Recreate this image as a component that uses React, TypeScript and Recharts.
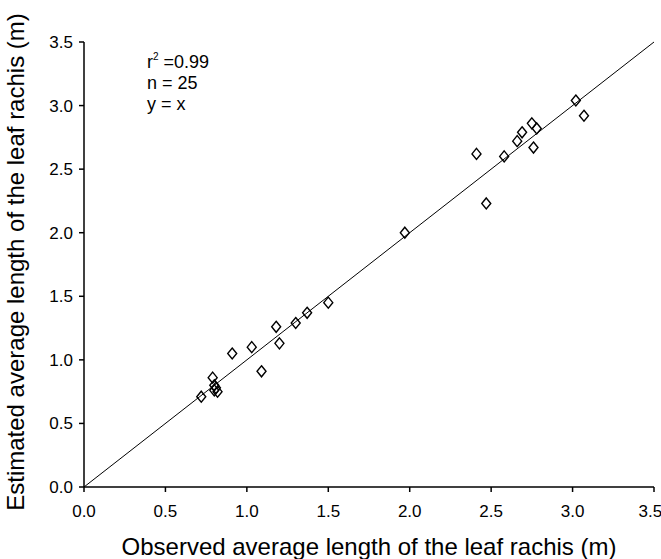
import React from 'react';
import {
  ScatterChart,
  Scatter,
  XAxis,
  YAxis,
  ReferenceLine,
  Customized,
} from 'recharts';

// observed (x) vs estimated (y) average rachis length, m
const observed = [
  0.72, 0.79, 0.8, 0.81, 0.8, 0.82, 0.91, 1.03, 1.09, 1.18, 1.2, 1.3, 1.37, 1.5,
  1.97, 2.41, 2.47, 2.58, 2.66, 2.69, 2.75, 2.78, 2.76, 3.02, 3.07,
];
const estimated = [
  0.71, 0.86, 0.8, 0.78, 0.76, 0.75, 1.05, 1.1, 0.91, 1.26, 1.13, 1.29, 1.37, 1.45,
  2.0, 2.62, 2.23, 2.6, 2.72, 2.79, 2.86, 2.82, 2.67, 3.04, 2.92,
];
const ticks = [0, 0.5, 1, 1.5, 2, 2.5, 3, 3.5];
const notes = ['n = 25', 'y = x'];

const points = observed.map((x, i) => ({ x, y: estimated[i] }));

const FONT = "Arial, 'Liberation Sans', sans-serif";

const Diamond = (props: any) => {
  const { cx, cy } = props;
  return (
    <path
      d={`M${cx},${cy - 5.5} L${cx + 4.5},${cy} L${cx},${cy + 5.5} L${cx - 4.5},${cy} Z`}
      fill="none"
      stroke="#000"
      strokeWidth={1.4}
    />
  );
};

const Notes = () => (
  <g fontFamily={FONT} fontSize={18} fill="#000">
    <text x={147} y={68}>
      r<tspan fontSize={10} dy={-8}>2</tspan>
      <tspan dy={8}> =0.99</tspan>
    </text>
    {notes.map((t, i) => (
      <text key={t} x={147} y={89 + i * 21}>
        {t}
      </text>
    ))}
    <text
      x={24}
      y={262}
      fontSize={24}
      textAnchor="middle"
      transform="rotate(-90 24 262)"
    >
      Estimated average length of the leaf rachis (m)
    </text>
    <text x={369} y={555} fontSize={24} textAnchor="middle">
      Observed average length of the leaf rachis (m)
    </text>
  </g>
);

const tickStyle = { fill: '#000', fontSize: 17, fontFamily: FONT };

export default function App() {
  return (
    <div style={{ position: 'absolute', left: 0, top: 0, background: '#fff' }}>
      <ScatterChart
        width={661}
        height={559}
        margin={{ top: 42, right: 7, bottom: 0, left: 0 }}
      >
        <XAxis
          type="number"
          dataKey="x"
          domain={[0, 3.5]}
          ticks={ticks}
          tickFormatter={(v: number) => v.toFixed(1)}
          tick={tickStyle}
          tickSize={5}
          tickMargin={13}
          height={72}
          stroke="#000"
          strokeWidth={1.5}
          allowDataOverflow
        />
        <YAxis
          type="number"
          dataKey="y"
          domain={[0, 3.5]}
          ticks={ticks}
          tickFormatter={(v: number) => v.toFixed(1)}
          tick={tickStyle}
          tickSize={5}
          tickMargin={6}
          width={84}
          stroke="#000"
          strokeWidth={1.5}
          allowDataOverflow
        />
        <ReferenceLine
          segment={[
            { x: 0, y: 0 },
            { x: 3.5, y: 3.5 },
          ]}
          stroke="#000"
          strokeWidth={1}
          ifOverflow="visible"
        />
        <Scatter
          data={points}
          shape={<Diamond />}
          isAnimationActive={false}
        />
        <Customized component={Notes} />
      </ScatterChart>
    </div>
  );
}
